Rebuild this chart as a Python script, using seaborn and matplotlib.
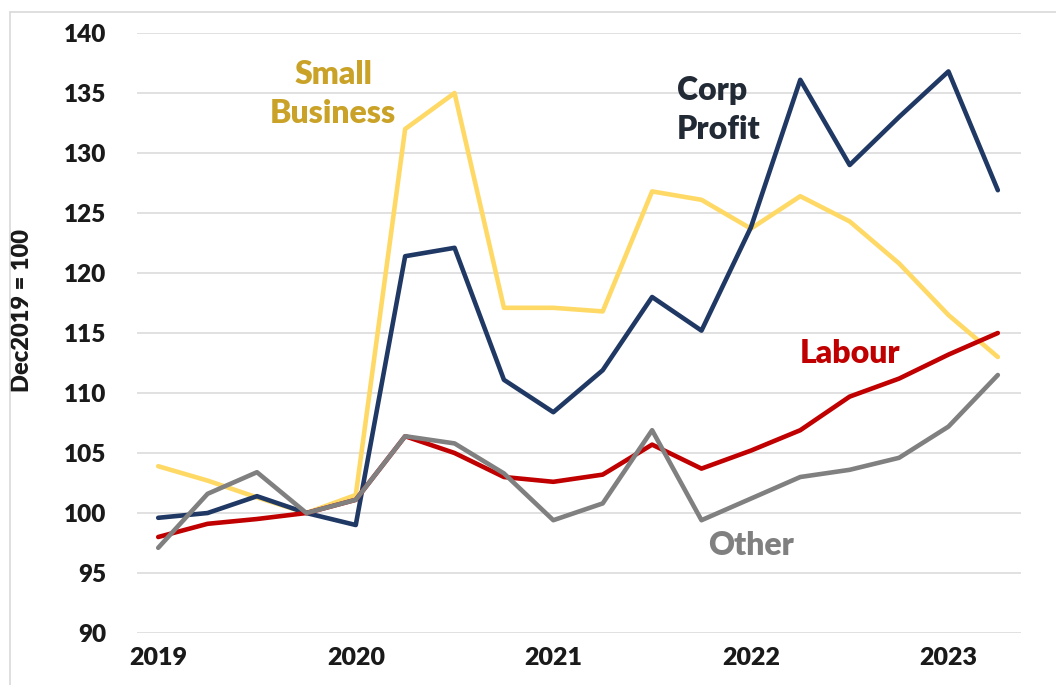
import matplotlib
matplotlib.use("Agg")
import matplotlib.pyplot as plt
import seaborn as sns
import pandas as pd

# quarterly index, Dec2019 = 100 (2019Q1 .. 2023Q2)
quarters = list(range(18))
year_ticks = [0, 4, 8, 12, 16]
year_labels = ["2019", "2020", "2021", "2022", "2023"]

corp_profit = [99.6, 100.0, 101.4, 100.0, 99.0, 121.4, 122.1, 111.1, 108.4, 111.9,
               118.0, 115.2, 123.8, 136.1, 129.0, 133.0, 136.8, 126.9]
small_business = [103.9, 102.7, 101.3, 100.0, 101.5, 132.0, 135.0, 117.1, 117.1, 116.8,
                  126.8, 126.1, 123.7, 126.4, 124.3, 120.8, 116.5, 113.0]
labour = [98.0, 99.1, 99.5, 100.0, 101.1, 106.4, 105.0, 103.0, 102.6, 103.2,
          105.7, 103.7, 105.2, 106.9, 109.7, 111.2, 113.2, 115.0]
other = [97.1, 101.6, 103.4, 100.0, 101.1, 106.4, 105.8, 103.3, 99.4, 100.8,
         106.9, 99.4, 101.2, 103.0, 103.6, 104.6, 107.2, 111.5]

series = {
    "Small Business": small_business,
    "Corp Profit": corp_profit,
    "Labour": labour,
    "Other": other,
}
palette = {
    "Small Business": "#FFD966",
    "Corp Profit": "#1F3864",
    "Labour": "#C00000",
    "Other": "#808080",
}

df = pd.concat(
    [pd.DataFrame({"quarter": quarters, "value": v, "series": k}) for k, v in series.items()],
    ignore_index=True,
)

sns.set_style("white")
plt.rcParams["font.family"] = ["Lato", "DejaVu Sans"]
W = "heavy"

fig = plt.figure(figsize=(10.56, 6.85), dpi=100)
ax = fig.add_axes([0.1297, 0.0759, 0.8372, 0.8759])

sns.lineplot(data=df, x="quarter", y="value", hue="series", palette=palette,
             linewidth=3.3, legend=False, ax=ax)

ax.set_xlim(-0.43, 17.47)
ax.set_ylim(90, 140)
ax.set_yticks(range(90, 141, 5))
ax.set_xticks(year_ticks)
ax.set_xticklabels(year_labels)
ax.grid(axis="y", color="#D9D9D9", linewidth=1.1)
ax.set_axisbelow(True)
for s in ax.spines.values():
    s.set_visible(False)
ax.tick_params(axis="y", length=0, pad=22, labelsize=17.5, labelcolor="#1a1a1a")
ax.tick_params(axis="x", length=0, pad=10, labelsize=18, labelcolor="#1a1a1a")
for lbl in ax.get_xticklabels() + ax.get_yticklabels():
    lbl.set_fontweight(W)

ax.set_xlabel("")
ax.set_ylabel("Dec2019 = 100", fontsize=17, fontweight=W, color="#1a1a1a")
ax.yaxis.set_label_coords(-0.118, 0.538)

# series annotations
ax.text(3.54, 134.9, "Small\nBusiness", color="#C9A227", fontsize=23, fontweight=W,
        ha="center", va="center", linespacing=1.4)
ax.text(10.5, 133.6, "Corp\nProfit", color="#222A35", fontsize=23, fontweight=W,
        ha="left", va="center", linespacing=1.4)
ax.text(14.0, 113.3, "Labour", color="#C00000", fontsize=23, fontweight=W,
        ha="center", va="center")
ax.text(12.0, 97.3, "Other", color="#808080", fontsize=23, fontweight=W,
        ha="center", va="center")

# light frame around the chart area
fig.add_artist(plt.Line2D([0.0095, 0.0095], [0, 0.982], color="#D9D9D9", lw=1.2))
fig.add_artist(plt.Line2D([0.0095, 1], [0.982, 0.982], color="#D9D9D9", lw=1.2))

fig.savefig("out.png", dpi=100)
